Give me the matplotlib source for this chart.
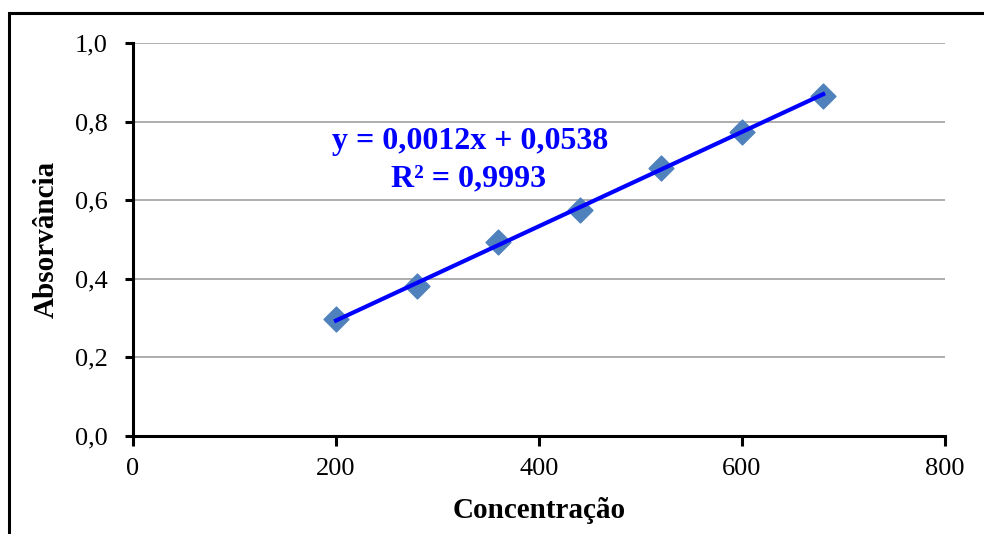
import numpy as np
import matplotlib.pyplot as plt
from matplotlib.patches import Rectangle

plt.rcParams['font.family'] = 'Liberation Serif'

conc = [200, 280, 360, 440, 520, 600, 680]
absorb = [0.298, 0.382, 0.494, 0.575, 0.682, 0.774, 0.865]
slope = 0.0012
intercept = 0.0538
r2 = 0.9993
xticks = [0, 200, 400, 600, 800]
yticks = [0.0, 0.2, 0.4, 0.6, 0.8, 1.0]

W, H = 984, 534
fig = plt.figure(figsize=(W / 100, H / 100), dpi=100)
ax = fig.add_axes([133 / W, 1 - 436 / H, (945 - 133) / W, (436 - 43) / H])

# outer frame of the chart
fig.patches.append(Rectangle((9 / W, -0.05), 1.05, 1 - 13 / H + 0.05,
                             transform=fig.transFigure, fill=False,
                             edgecolor='black', linewidth=2.2, zorder=0))

def comma(v, nd):
    return ('%.*f' % (nd, v)).replace('.', ',')

ax.set_xlim(0, 800)
ax.set_ylim(0, 1.0)
ax.set_xticks(xticks)
ax.set_yticks(yticks)
ax.set_yticklabels([comma(v, 1) for v in yticks])
ax.yaxis.grid(True, color='#a0a0a0', linewidth=1.2)
ax.set_axisbelow(True)

for s in ['top', 'right']:
    ax.spines[s].set_visible(False)
for s in ['left', 'bottom']:
    ax.spines[s].set_linewidth(2.2)
ax.tick_params(axis='both', direction='out', width=2.2, labelsize=19)
ax.tick_params(axis='y', length=6, pad=12)
ax.tick_params(axis='x', length=7, pad=9)

ax.scatter(conc, absorb, marker='D', s=160, color='#4f81bd', zorder=3)
xf = np.array([conc[0], conc[-1]])
ax.plot(xf, slope * xf + intercept, color='#0000ff', linewidth=3, zorder=4)

# equation placed in pixel space of the axes
tx = ax.transAxes.inverted()
def px(x, y):
    return tx.transform(fig.transFigure.transform((x / W, 1 - y / H)))

eq = 'y = %sx + %s' % (comma(slope, 4), comma(intercept, 4))
ax.text(*px(470, 142), eq, transform=ax.transAxes, color='#0000ff',
        fontsize=23, fontweight='bold', ha='center', va='center')
ax.text(*px(469, 179), 'R² = ' + comma(r2, 4), transform=ax.transAxes,
        color='#0000ff', fontsize=23, fontweight='bold', ha='center', va='center')

ax.set_xlabel('Concentração', fontsize=21, fontweight='bold', labelpad=12)
ax.set_ylabel('Absorvância', fontsize=21, fontweight='bold', labelpad=11)

fig.savefig('out.png', dpi=100)
